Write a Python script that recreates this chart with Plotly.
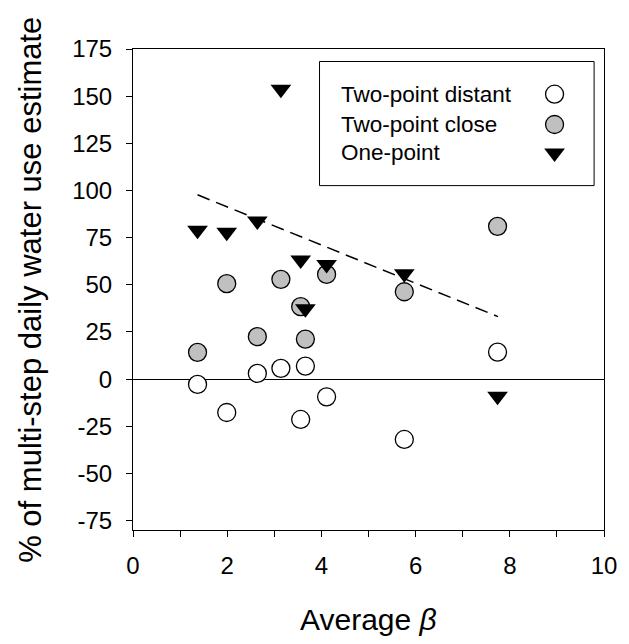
import plotly.graph_objects as go

# ---- data ----
beta = [1.37, 1.99, 2.64, 3.14, 3.56, 3.66, 4.11, 5.76, 7.74]
two_point_distant = [-2.8, -17.7, 3.0, 5.7, -21.4, 6.9, -9.4, -32.0, 14.3]
two_point_close = [14.2, 50.6, 22.5, 52.9, 38.4, 21.2, 55.5, 46.3, 81.0]
one_point = [78.9, 77.8, 83.8, 153.7, 63.1, 37.3, 60.8, 55.9, -9.1]
trend_x = [1.37, 7.75]
trend_y = [97.7, 33.1]
series_names = ["Two-point distant", "Two-point close", "One-point"]
x_ticks = [0, 2, 4, 6, 8, 10]
x_minor = [1, 3, 5, 7, 9]
y_ticks = [-75, -50, -25, 0, 25, 50, 75, 100, 125, 150, 175]
y_ticktext = ["-75", "-50", "-25", "0", "25", "50", "75", "100", "125", "150", "175"]

FONT = "Liberation Sans, Arial, sans-serif"

fig = go.Figure()

fig.add_trace(go.Scatter(x=trend_x, y=trend_y, mode="lines",
                         line=dict(color="black", width=1.5, dash="13px,7px"),
                         showlegend=False, hoverinfo="skip"))
fig.add_trace(go.Scatter(x=beta, y=two_point_distant, mode="markers", name=series_names[0],
                         marker=dict(symbol="circle", size=18, color="white",
                                     line=dict(color="black", width=1.3)),
                         showlegend=False))
fig.add_trace(go.Scatter(x=beta, y=two_point_close, mode="markers", name=series_names[1],
                         marker=dict(symbol="circle", size=18, color="#c0c0c0",
                                     line=dict(color="black", width=1.3)),
                         showlegend=False))
fig.add_trace(go.Scatter(x=beta, y=one_point, mode="markers", name=series_names[2],
                         marker=dict(symbol="triangle-down", size=18, color="black",
                                     line=dict(color="black", width=0)),
                         showlegend=False))

# ---- custom legend (text left, symbol right) ----
leg_rows = [0.906, 0.843, 0.784]
leg_sym_x = 0.895
leg_styles = [
    dict(symbol="circle", size=18, color="white", line=dict(color="black", width=1.3)),
    dict(symbol="circle", size=18, color="#c0c0c0", line=dict(color="black", width=1.3)),
    dict(symbol="triangle-down", size=18, color="black", line=dict(width=0)),
]
for name, yy, st in zip(series_names, leg_rows, leg_styles):
    fig.add_trace(go.Scatter(x=[leg_sym_x], y=[yy], mode="markers", marker=st,
                             xaxis="x2", yaxis="y2", showlegend=False, hoverinfo="skip"))
    fig.add_annotation(x=0.438, y=yy, xref="paper", yref="paper", text=name,
                       showarrow=False, xanchor="left", yanchor="middle",
                       font=dict(family=FONT, size=22.5, color="black"))
fig.add_shape(type="rect", xref="paper", yref="paper", x0=0.396, x1=0.979, y0=0.716, y1=0.974,
              line=dict(color="black", width=1), fillcolor="rgba(0,0,0,0)", layer="below")

fig.update_layout(
    width=629, height=644,
    margin=dict(l=133, r=19, t=49, b=114),
    plot_bgcolor="white", paper_bgcolor="white",
    font=dict(family=FONT, size=24, color="black"),
    xaxis=dict(range=[0, 10], tickvals=x_ticks, ticks="outside", ticklen=6,
               tickwidth=1, tickcolor="black", showline=True, linecolor="black", linewidth=1,
               mirror=True, showgrid=False, zeroline=False, ticklabelstandoff=8,
               minor=dict(tickvals=x_minor, ticks="outside", ticklen=6,
                          tickcolor="black", showgrid=False),
               tickfont=dict(size=24)),
    yaxis=dict(range=[-80, 175], tickvals=y_ticks, ticktext=y_ticktext,
               ticks="outside", ticklen=6, tickwidth=1, tickcolor="black",
               showline=True, linecolor="black", linewidth=1, mirror=True, showgrid=False,
               zeroline=True, zerolinecolor="black", zerolinewidth=1, ticklabelstandoff=9,
               tickfont=dict(size=24)),
    xaxis2=dict(range=[0, 1], overlaying="x", visible=False),
    yaxis2=dict(range=[0, 1], overlaying="y", visible=False),
)

fig.add_annotation(x=0.5, y=-0.187, xref="paper", yref="paper", yanchor="middle",
                   text="Average <i>β</i>", showarrow=False,
                   font=dict(family=FONT, size=30, color="black"))
fig.add_annotation(x=-0.218, y=0.5, xref="paper", yref="paper", xanchor="center",
                   yanchor="middle",
                   text="% of multi-step daily water use estimate", showarrow=False,
                   textangle=-90, font=dict(family=FONT, size=31, color="black"))

fig.write_html("out.html")
